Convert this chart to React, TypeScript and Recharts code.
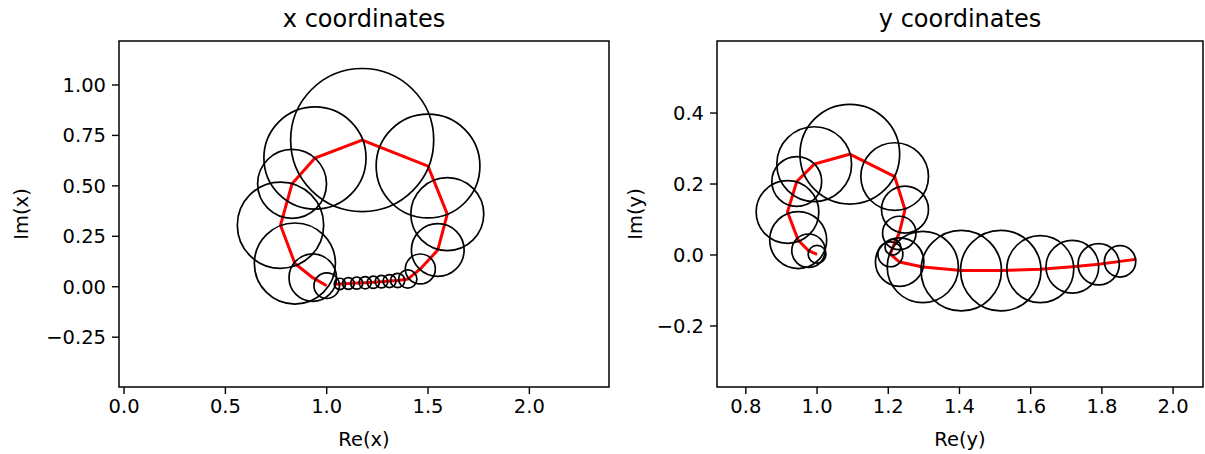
import React from 'react';
import { ComposedChart, XAxis, YAxis, Scatter, Line, ReferenceArea } from 'recharts';

// ---- x coordinates panel (path order) ----
const xCoordRe = [1.0, 0.931, 0.843, 0.772, 0.829, 0.942, 1.175, 1.5, 1.595, 1.548, 1.462, 1.4, 1.35, 1.31, 1.27, 1.23, 1.19, 1.148, 1.107, 1.065, 1.04];
const xCoordIm = [0.005, 0.045, 0.115, 0.305, 0.51, 0.638, 0.727, 0.598, 0.36, 0.182, 0.088, 0.038, 0.031, 0.028, 0.025, 0.022, 0.02, 0.018, 0.016, 0.014, 0.012];
const xCoordRadius = [0.063, 0.117, 0.2, 0.213, 0.17, 0.252, 0.353, 0.256, 0.18, 0.13, 0.074, 0.045, 0.035, 0.032, 0.031, 0.03, 0.03, 0.03, 0.029, 0.028, 0];

// ---- y coordinates panel (path order) ----
const yCoordRe = [1.0, 0.976, 0.947, 0.917, 0.943, 0.992, 1.092, 1.218, 1.247, 1.231, 1.213, 1.206, 1.232, 1.297, 1.405, 1.516, 1.627, 1.717, 1.791, 1.851, 1.897];
const yCoordIm = [0.002, 0.012, 0.042, 0.121, 0.207, 0.256, 0.284, 0.221, 0.128, 0.062, 0.022, 0.002, -0.02, -0.034, -0.044, -0.044, -0.04, -0.033, -0.026, -0.018, -0.012];
const yCoordRadius = [0.025, 0.047, 0.08, 0.088, 0.07, 0.105, 0.14, 0.095, 0.066, 0.047, 0.022, 0.035, 0.068, 0.1, 0.113, 0.113, 0.094, 0.074, 0.058, 0.044, 0];

// ---- ticks ----
const leftXTicks = [0, 0.5, 1.0, 1.5, 2.0];
const leftYTicks = [-0.25, 0, 0.25, 0.5, 0.75, 1.0];
const rightXTicks = [0.8, 1.0, 1.2, 1.4, 1.6, 1.8, 2.0];
const rightYTicks = [-0.2, 0, 0.2, 0.4];

const leftXDomain: [number, number] = [-0.025, 2.393];
const leftYDomain: [number, number] = [-0.497, 1.218];
const rightXDomain: [number, number] = [0.719, 2.084];
const rightYDomain: [number, number] = [-0.372, 0.603];

const FONT = 'DejaVu Sans';
const TICK_FS = 19.5;
const LABEL_FS = 19.5;
const TITLE_FS = 24;

const fmt = (digits: number) => (v: number) => {
  const s = Math.abs(v).toFixed(digits);
  return v < -1e-9 ? '\u2212' + s : s;
};

const build = (re: number[], im: number[], r: number[]) =>
  re.map((v, i) => ({ re: v, im: im[i], r: r[i] }));

const leftData = build(xCoordRe, xCoordIm, xCoordRadius);
const rightData = build(yCoordRe, yCoordIm, yCoordRadius);

const CHART_H = 454;
const TOP = 41;
const XAXIS_H = 30;
const BOTTOM_M = 37;

type PanelProps = {
  width: number;
  yAxisWidth: number;
  marginRight: number;
  xDomain: [number, number];
  yDomain: [number, number];
  xTicks: number[];
  yTicks: number[];
  fmtX: (v: number) => string;
  fmtY: (v: number) => string;
  data: { re: number; im: number; r: number }[];
};

function Panel(p: PanelProps) {
  const plotW = p.width - p.yAxisWidth - p.marginRight;
  const pxPerUnit = plotW / (p.xDomain[1] - p.xDomain[0]);
  const circleShape = (props: any) => {
    const { cx, cy, payload } = props;
    if (!payload || !payload.r || cx == null || cy == null) return <g />;
    return (
      <circle cx={cx} cy={cy} r={payload.r * pxPerUnit} fill="none" stroke="#000" strokeWidth={1.7} />
    );
  };
  const tickStyle = { fill: '#000', fontSize: TICK_FS, fontFamily: FONT };
  return (
    <ComposedChart
      width={p.width}
      height={CHART_H}
      margin={{ top: TOP, right: p.marginRight, bottom: BOTTOM_M, left: 0 }}
    >
      <XAxis
        type="number"
        dataKey="re"
        domain={p.xDomain}
        allowDataOverflow
        ticks={p.xTicks}
        interval={0}
        tickFormatter={p.fmtX}
        height={XAXIS_H}
        axisLine={false}
        tickLine={{ stroke: '#000', strokeWidth: 1.4 }}
        tickSize={7}
        tickMargin={5}
        tick={tickStyle}
      />
      <YAxis
        type="number"
        dataKey="im"
        domain={p.yDomain}
        allowDataOverflow
        ticks={p.yTicks}
        interval={0}
        tickFormatter={p.fmtY}
        width={p.yAxisWidth}
        axisLine={false}
        tickLine={{ stroke: '#000', strokeWidth: 1.4 }}
        tickSize={7}
        tickMargin={6}
        tick={tickStyle}
      />
      <ReferenceArea
        x1={p.xDomain[0]}
        x2={p.xDomain[1]}
        y1={p.yDomain[0]}
        y2={p.yDomain[1]}
        fill="none"
        fillOpacity={0}
        stroke="#000"
        strokeWidth={1.5}
        ifOverflow="visible"
      />
      <Scatter data={p.data} dataKey="im" shape={circleShape} isAnimationActive={false} />
      <Line
        data={p.data}
        dataKey="im"
        type="linear"
        stroke="#ff0000"
        strokeWidth={3}
        dot={false}
        activeDot={false}
        isAnimationActive={false}
      />
    </ComposedChart>
  );
}

const textBase: React.CSSProperties = {
  position: 'absolute',
  fontFamily: FONT,
  color: '#000',
  whiteSpace: 'nowrap',
  lineHeight: 1,
};

function CenteredText(props: { x: number; y: number; size: number; rotate?: boolean; children: string }) {
  return (
    <div
      style={{
        ...textBase,
        left: props.x,
        top: props.y,
        fontSize: props.size,
        transform: `translate(-50%, -50%)${props.rotate ? ' rotate(-90deg)' : ''}`,
      }}
    >
      {props.children}
    </div>
  );
}

export default function App() {
  return (
    <div style={{ position: 'absolute', left: 0, top: 0, width: 1205, height: 454, background: '#fff', overflow: 'hidden' }}>
      <div style={{ position: 'absolute', left: 0, top: 0 }}>
        <Panel
          width={615}
          yAxisWidth={119}
          marginRight={6}
          xDomain={leftXDomain}
          yDomain={leftYDomain}
          xTicks={leftXTicks}
          yTicks={leftYTicks}
          fmtX={fmt(1)}
          fmtY={fmt(2)}
          data={leftData}
        />
      </div>
      <div style={{ position: 'absolute', left: 615, top: 0 }}>
        <Panel
          width={590}
          yAxisWidth={102}
          marginRight={2}
          xDomain={rightXDomain}
          yDomain={rightYDomain}
          xTicks={rightXTicks}
          yTicks={rightYTicks}
          fmtX={fmt(1)}
          fmtY={fmt(1)}
          data={rightData}
        />
      </div>
      <CenteredText x={364} y={19} size={TITLE_FS}>x coordinates</CenteredText>
      <CenteredText x={960} y={19} size={TITLE_FS}>y coordinates</CenteredText>
      <CenteredText x={364} y={440} size={LABEL_FS}>Re(x)</CenteredText>
      <CenteredText x={960} y={440} size={LABEL_FS}>Re(y)</CenteredText>
      <CenteredText x={22} y={214} size={LABEL_FS} rotate>Im(x)</CenteredText>
      <CenteredText x={636} y={214} size={LABEL_FS} rotate>Im(y)</CenteredText>
    </div>
  );
}
